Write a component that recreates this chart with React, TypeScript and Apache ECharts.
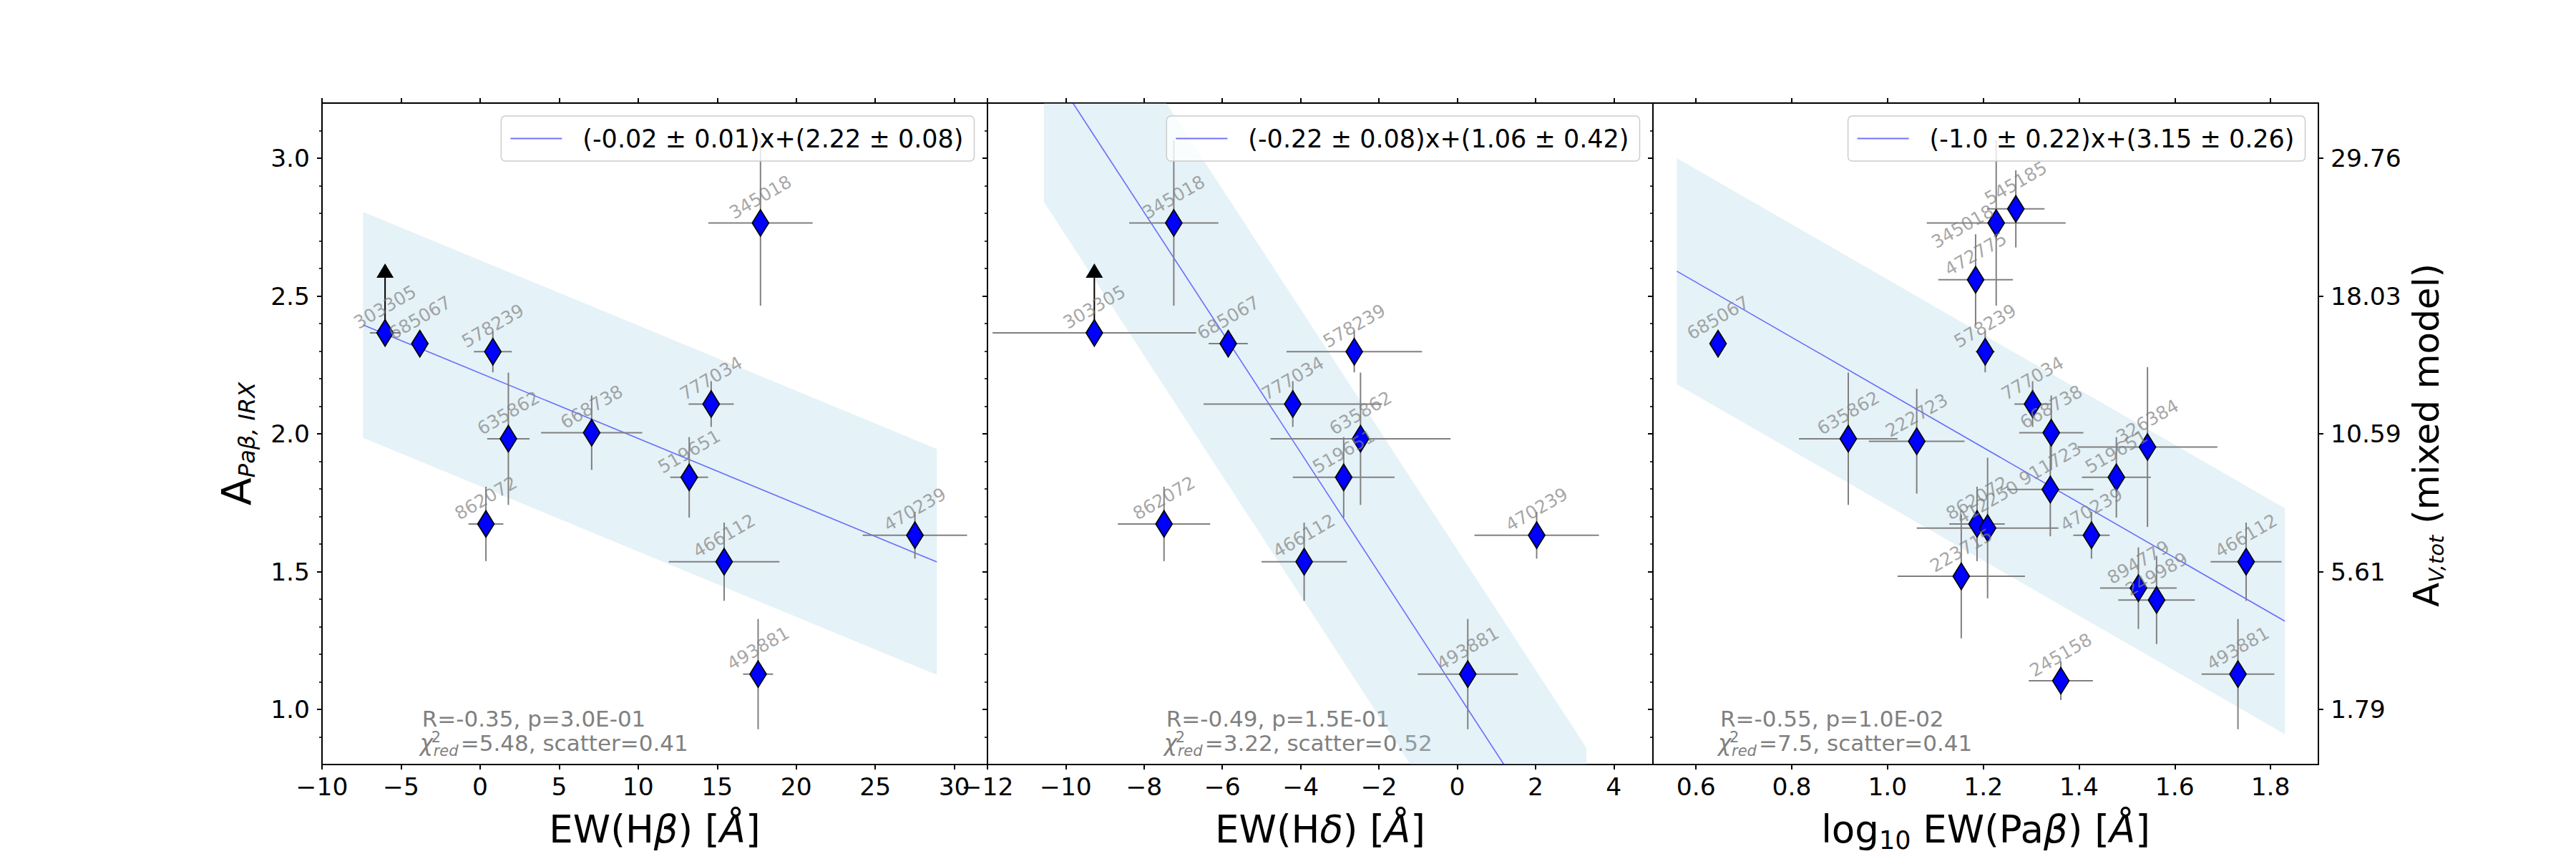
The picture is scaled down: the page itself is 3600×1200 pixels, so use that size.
import React, { useEffect, useRef } from "react";
import * as echarts from "echarts";

const FONT = "DejaVu Sans";
const GRAY = "#808080";
const ID_GRAY = "rgba(128,128,128,0.7)";
const FIT_COLOR = "rgba(0,0,255,0.55)";
const BAND_COLOR = "rgba(173,216,230,0.32)";

// A(Paβ) derived from IRX, one value per object id (shared by every panel)
const OBJ_IDS = ["303305", "345018", "685067", "578239", "777034", "635862", "668738", "519651", "862072", "466112", "493881", "470239", "545185", "472775", "222723", "326384", "911723", "412250", "223715", "894779", "249989", "245158"];
const A_PAB_IRX = [2.366, 2.765, 2.327, 2.298, 2.108, 1.982, 2.004, 1.842, 1.673, 1.536, 1.128, 1.632, 2.816, 2.559, 1.973, 1.952, 1.798, 1.658, 1.483, 1.44, 1.397, 1.104];
const A_PAB_IRX_ERR = [0, 0.3, 0.03, 0.075, 0.083, 0.24, 0.135, 0.146, 0.135, 0.142, 0.2, 0.085, 0.14, 0.165, 0.19, 0.29, 0.17, 0.255, 0.225, 0.148, 0.16, 0.07];
const LOWER_LIMIT_IDS = ["303305"];
const LIMIT_ARROW = 0.2;

// Panel 1: EW(Hβ)
const HB_IDS = ["303305", "345018", "685067", "578239", "777034", "635862", "668738", "519651", "862072", "466112", "493881", "470239"];
const HB_EW = [-6.01, 17.74, -3.81, 0.81, 14.62, 1.79, 7.06, 13.23, 0.37, 15.44, 17.59, 27.51];
const HB_EW_ERR = [0.96, 3.3, 0.4, 1.2, 1.43, 1.34, 3.2, 1.2, 1.1, 3.5, 0.95, 3.3];

// Panel 2: EW(Hδ)
const HD_IDS = ["303305", "345018", "685067", "578239", "777034", "635862", "519651", "862072", "466112", "493881", "470239"];
const HD_EW = [-9.27, -7.24, -5.85, -2.63, -4.2, -2.47, -2.9, -7.49, -3.91, 0.27, 2.03];
const HD_EW_ERR = [2.6, 1.14, 0.5, 1.73, 2.28, 2.3, 1.3, 1.18, 1.09, 1.28, 1.59];

// Panel 3: log10 EW(Paβ)
const PB_IDS = ["685067", "345018", "545185", "472775", "578239", "635862", "222723", "777034", "668738", "326384", "519651", "911723", "862072", "412250", "223715", "470239", "894779", "249989", "466112", "245158", "493881"];
const PB_LOG_EW = [0.646, 1.227, 1.268, 1.184, 1.204, 0.918, 1.061, 1.303, 1.342, 1.543, 1.478, 1.34, 1.187, 1.209, 1.154, 1.426, 1.524, 1.562, 1.749, 1.362, 1.732];
const PB_LOG_EW_ERR = [0.005, 0.145, 0.06, 0.078, 0.02, 0.103, 0.1, 0.038, 0.067, 0.146, 0.072, 0.09, 0.058, 0.148, 0.133, 0.038, 0.08, 0.08, 0.074, 0.067, 0.076];

// Linear fits and their statistics
const FIT_SLOPE = [-0.0237, -0.218, -1.0];
const FIT_SLOPE_ERR = [0.01, 0.08, 0.22];
const FIT_INTERCEPT = [2.22, 1.06, 3.15];
const FIT_INTERCEPT_ERR = [0.08, 0.42, 0.26];
const FIT_X_RANGE = [[-7.4, 28.9], [-10.56, 3.3], [0.56, 1.83]];
const SCATTER = [0.41, 0.52, 0.41];
const STATS_R = ["R=-0.35, p=3.0E-01", "R=-0.49, p=1.5E-01", "R=-0.55, p=1.0E-02"];
const STATS_CHI2 = ["5.48", "3.22", "7.5"];

// Axes
const X_MIN = [-10, -12, 0.51];
const X_MAX = [32.1, 5, 1.9];
const X_TICKS = [[-10, -5, 0, 5, 10, 15, 20, 25, 30], [-12, -10, -8, -6, -4, -2, 0, 2, 4], [0.6, 0.8, 1.0, 1.2, 1.4, 1.6, 1.8]];
const Y_MIN = 0.8;
const Y_MAX = 3.2;
const Y_TICKS = [1.0, 1.5, 2.0, 2.5, 3.0];
const Y_MINOR_TICKS = [0.9, 1.1, 1.2, 1.3, 1.4, 1.6, 1.7, 1.8, 1.9, 2.1, 2.2, 2.3, 2.4, 2.6, 2.7, 2.8, 2.9, 3.1];
const AV_TICK_LABELS = ["1.79", "5.61", "10.59", "18.03", "29.76"];

// Layout
const GRID_LEFT = [450, 1380, 2310];
const GRID_TOP = 144;
const GRID_W = 930;
const GRID_H = 924;

const PANELS = [
  { ids: HB_IDS, x: HB_EW, xerr: HB_EW_ERR },
  { ids: HD_IDS, x: HD_EW, xerr: HD_EW_ERR },
  { ids: PB_IDS, x: PB_LOG_EW, xerr: PB_LOG_EW_ERR },
];

// Pixel offset of the id labels from their marker; a few are moved aside
const LABEL_OFFSET = [0, -36];
const LABEL_SHIFT: Record<string, number[]> = { "2:345018": [-47, 5] };

const pyRound = (v: number) => {
  const r = Math.round(v * 100) / 100;
  return Number.isInteger(r) ? r.toFixed(1) : String(r);
};
const fitName = (p: number) =>
  `(${pyRound(FIT_SLOPE[p])} ± ${pyRound(FIT_SLOPE_ERR[p])})x+(${pyRound(FIT_INTERCEPT[p])} ± ${pyRound(FIT_INTERCEPT_ERR[p])})`;
const aOf = (id: string) => A_PAB_IRX[OBJ_IDS.indexOf(id)];
const aErrOf = (id: string) => A_PAB_IRX_ERR[OBJ_IDS.indexOf(id)];
const fitY = (p: number, x: number) => FIT_INTERCEPT[p] + FIT_SLOPE[p] * x;

const tickFmt = (p: number) => (v: number) => {
  if (p === 2) return v.toFixed(1);
  return v < 0 ? "\u2212" + Math.abs(v) : String(v);
};

function buildOption() {
  const grid = GRID_LEFT.map((left) => ({ left, top: GRID_TOP, width: GRID_W, height: GRID_H }));

  const axisLine = { show: true, onZero: false, lineStyle: { color: "#000", width: 2 } };
  const xAxis: any[] = [];
  for (let p = 0; p < 3; p++) {
    xAxis.push({
      type: "value", gridIndex: p, position: "bottom", min: X_MIN[p], max: X_MAX[p],
      axisLine,
      axisTick: { show: true, customValues: X_TICKS[p], length: 7, lineStyle: { color: "#000", width: 2 } },
      axisLabel: { show: true, customValues: X_TICKS[p], formatter: tickFmt(p), fontSize: 34.5, fontFamily: FONT, color: "#000", margin: 13 },
      splitLine: { show: false },
    });
  }
  for (let p = 0; p < 3; p++) {
    xAxis.push({
      type: "value", gridIndex: p, position: "top", min: X_MIN[p], max: X_MAX[p],
      axisLine,
      axisTick: { show: true, customValues: X_TICKS[p], length: 7, lineStyle: { color: "#000", width: 2 } },
      axisLabel: { show: false },
      splitLine: { show: false },
    });
  }

  const yAxis: any[] = [];
  for (let p = 0; p < 3; p++) {
    yAxis.push({
      type: "value", gridIndex: p, position: "left", min: Y_MIN, max: Y_MAX,
      axisLine,
      axisTick: { show: true, customValues: Y_TICKS, length: 7, lineStyle: { color: "#000", width: 2 } },
      axisLabel: { show: p === 0, customValues: Y_TICKS, formatter: (v: number) => v.toFixed(1), fontSize: 34.5, fontFamily: FONT, color: "#000", margin: 17 },
      splitLine: { show: false },
    });
  }
  for (let p = 0; p < 3; p++) {
    yAxis.push({
      type: "value", gridIndex: p, position: "left", min: Y_MIN, max: Y_MAX,
      axisLine: { show: false, onZero: false },
      axisTick: { show: true, customValues: Y_MINOR_TICKS, length: 4, lineStyle: { color: "#000", width: 1.6 } },
      axisLabel: { show: false },
      splitLine: { show: false },
    });
  }
  yAxis.push({
    type: "value", gridIndex: 2, position: "right", min: Y_MIN, max: Y_MAX,
    axisLine,
    axisTick: { show: true, customValues: Y_TICKS, length: 7, lineStyle: { color: "#000", width: 2 } },
    axisLabel: {
      show: true, customValues: Y_TICKS, fontSize: 34.5, fontFamily: FONT, color: "#000", margin: 17,
      formatter: (v: number) => {
        const i = Y_TICKS.findIndex((t) => Math.abs(t - v) < 1e-6);
        return i >= 0 ? AV_TICK_LABELS[i] : "";
      },
    },
    splitLine: { show: false },
  });

  const series: any[] = [];
  const legend: any[] = [];
  PANELS.forEach((panel, p) => {
    const [x0, x1] = FIT_X_RANGE[p];
    // scatter band around the fit
    series.push({
      type: "custom", xAxisIndex: p, yAxisIndex: p, clip: true, silent: true, z: 1,
      data: [[x0, x1]],
      encode: { x: [0, 1] },
      renderItem: (_params: any, api: any) => {
        const a = api.value(0), b = api.value(1), s = SCATTER[p];
        const pts = [[a, fitY(p, a) + s], [b, fitY(p, b) + s], [b, fitY(p, b) - s], [a, fitY(p, a) - s]].map((q) => api.coord(q));
        return { type: "polygon", shape: { points: pts }, style: { fill: BAND_COLOR } };
      },
    });
    // best-fit line
    series.push({
      type: "line", name: fitName(p), xAxisIndex: p, yAxisIndex: p, z: 2, symbol: "none", silent: true,
      data: [[x0, fitY(p, x0)], [x1, fitY(p, x1)]],
      lineStyle: { color: FIT_COLOR, width: 1.6 },
      itemStyle: { color: FIT_COLOR },
    });
    // error bars
    series.push({
      type: "custom", xAxisIndex: p, yAxisIndex: p, clip: true, silent: true, z: 3,
      data: panel.ids.map((id, i) => [panel.x[i], aOf(id), panel.xerr[i], aErrOf(id)]),
      encode: { x: 0, y: 1 },
      renderItem: (_params: any, api: any) => {
        const x = api.value(0), y = api.value(1), xe = api.value(2), ye = api.value(3);
        const st = { stroke: GRAY, lineWidth: 2 };
        const children: any[] = [];
        if (xe > 0) {
          const l = api.coord([x - xe, y]), r = api.coord([x + xe, y]);
          children.push({ type: "line", shape: { x1: l[0], y1: l[1], x2: r[0], y2: r[1] }, style: st });
        }
        if (ye > 0) {
          const t = api.coord([x, y + ye]), b = api.coord([x, y - ye]);
          children.push({ type: "line", shape: { x1: t[0], y1: t[1], x2: b[0], y2: b[1] }, style: st });
        }
        return { type: "group", children };
      },
    });
    // lower-limit arrows
    const limits = panel.ids.map((id, i) => ({ id, i })).filter((d) => LOWER_LIMIT_IDS.includes(d.id));
    if (limits.length) {
      series.push({
        type: "custom", xAxisIndex: p, yAxisIndex: p, clip: true, silent: true, z: 3,
        data: limits.map((d) => [panel.x[d.i], aOf(d.id)]),
        encode: { x: 0, y: 1 },
        renderItem: (_params: any, api: any) => {
          const x = api.value(0), y = api.value(1);
          const base = api.coord([x, y]);
          const tip = api.coord([x, y + LIMIT_ARROW]);
          return {
            type: "group",
            children: [
              { type: "line", shape: { x1: base[0], y1: base[1], x2: tip[0], y2: tip[1] }, style: { stroke: "#000", lineWidth: 2 } },
              { type: "polygon", shape: { points: [[tip[0] - 12, tip[1]], [tip[0] + 12, tip[1]], [tip[0], tip[1] - 20]] }, style: { fill: "#000" } },
            ],
          };
        },
      });
    }
    // objects
    series.push({
      type: "scatter", xAxisIndex: p, yAxisIndex: p, z: 4,
      symbol: "diamond", symbolSize: [23, 37],
      itemStyle: { color: "#0000ff", borderColor: "#000", borderWidth: 1.8, opacity: 1 },
      data: panel.ids.map((id, i) => ({ name: id, value: [panel.x[i], aOf(id)] })),
    });
    // rotated id labels
    series.push({
      type: "custom", xAxisIndex: p, yAxisIndex: p, clip: false, silent: true, z: 5,
      data: panel.ids.map((id, i) => [panel.x[i], aOf(id), i]),
      encode: { x: 0, y: 1 },
      renderItem: (_params: any, api: any) => {
        const id = panel.ids[api.value(2)];
        const c = api.coord([api.value(0), api.value(1)]);
        const off = LABEL_SHIFT[`${p}:${id}`] || LABEL_OFFSET;
        return {
          type: "text", x: c[0] + off[0], y: c[1] + off[1], rotation: Math.PI / 6,
          style: {
            text: id, fontSize: 25, fontFamily: FONT, fill: ID_GRAY,
            align: "center", verticalAlign: "middle", textAlign: "center", textVerticalAlign: "middle",
          },
        };
      },
    });

    legend.push({
      data: [fitName(p)], selectedMode: false,
      right: 3600 - (GRID_LEFT[p] + GRID_W - 18.5), top: 162,
      icon: "rect", itemWidth: 72, itemHeight: 2,
      backgroundColor: "rgba(255,255,255,0.8)", borderColor: "#cccccc", borderWidth: 1.5, borderRadius: 6,
      padding: [14, 15, 14, 13],
      textStyle: { fontSize: 35, fontFamily: FONT, color: "#000", padding: [0, 0, 0, 24] },
    });
  });

  return {
    animation: false,
    backgroundColor: "#fff",
    textStyle: { fontFamily: FONT },
    grid, xAxis, yAxis, series, legend,
  };
}

const X_TITLES = [
  "{n|EW(H}{i|β}{n|) [}{i|Å}{n|]}",
  "{n|EW(H}{i|δ}{n|) [}{i|Å}{n|]}",
  "{n|log}{s|10}{n| EW(Pa}{i|β}{n|) [}{i|Å}{n|]}",
];

function buildGraphics(chart: any) {
  const els: any[] = [];
  // main tokens sit in the middle of the line, subscripts hang from its bottom
  const xRich = {
    n: { fontSize: 53, fontFamily: FONT, fill: "#000", lineHeight: 65 },
    i: { fontSize: 53, fontFamily: FONT, fontStyle: "italic", fill: "#000", lineHeight: 65 },
    s: { fontSize: 35, fontFamily: FONT, fill: "#000", verticalAlign: "bottom" },
  };
  for (let p = 0; p < 3; p++) {
    els.push({
      type: "text", x: GRID_LEFT[p] + GRID_W / 2, y: 1177 - 32.5 - 0.346 * 53, silent: true, z: 10,
      style: { text: X_TITLES[p], rich: xRich, align: "center", verticalAlign: "top", textAlign: "center", textVerticalAlign: "top" },
    });
  }
  // left axis title
  els.push({
    type: "text", x: 331, y: 620, rotation: Math.PI / 2, silent: true, z: 10,
    style: {
      text: "{a|A}{s|Paβ, IRX}", align: "center", verticalAlign: "middle", textAlign: "center", textVerticalAlign: "middle",
      rich: {
        a: { fontSize: 57, fontFamily: FONT, fill: "#000", lineHeight: 60 },
        s: { fontSize: 32, fontFamily: FONT, fontStyle: "italic", fill: "#000", verticalAlign: "bottom" },
      },
    },
  });
  // right axis title
  els.push({
    type: "text", x: 3391, y: 608, rotation: Math.PI / 2, silent: true, z: 10,
    style: {
      text: "{a|A}{s|V,tot}{a| (mixed model)}", align: "center", verticalAlign: "middle", textAlign: "center", textVerticalAlign: "middle",
      rich: {
        a: { fontSize: 50, fontFamily: FONT, fill: "#000", lineHeight: 56 },
        s: { fontSize: 29, fontFamily: FONT, fontStyle: "italic", fill: "#000", verticalAlign: "bottom" },
      },
    },
  });
  // fit statistics, anchored at the smallest x among measured (non-limit) objects
  const mid = (fs: number) => -0.346 * fs;
  PANELS.forEach((panel, p) => {
    const xs = panel.ids.map((id, i) => (LOWER_LIMIT_IDS.includes(id) ? Infinity : panel.x[i]));
    const xAnchor = Math.min(...xs);
    const [gx, gy] = chart.convertToPixel({ gridIndex: p }, [xAnchor, 0.85]);
    const base = { fontFamily: FONT, fill: GRAY, align: "left", verticalAlign: "middle", textAlign: "left", textVerticalAlign: "middle" };
    els.push({
      type: "group", x: gx, y: gy, silent: true, z: 10,
      children: [
        { type: "text", x: 3, y: -34 + mid(31), style: { ...base, text: STATS_R[p], fontSize: 31, lineHeight: 22 } },
        { type: "text", x: 0, y: mid(31), style: { ...base, text: "χ", fontSize: 31, fontStyle: "italic", lineHeight: 12 } },
        { type: "text", x: 16, y: -11 + mid(21), style: { ...base, text: "2", fontSize: 21, lineHeight: 10 } },
        { type: "text", x: 19, y: 8 + mid(21), style: { ...base, text: "red", fontSize: 21, fontStyle: "italic", lineHeight: 12 } },
        { type: "text", x: 57, y: mid(31), style: { ...base, text: `=${STATS_CHI2[p]}, scatter=${SCATTER[p]}`, fontSize: 31, lineHeight: 22 } },
      ],
    });
  });
  return els;
}

export default function App() {
  const ref = useRef<HTMLDivElement>(null);
  useEffect(() => {
    if (!ref.current) return;
    const chart = echarts.init(ref.current, undefined, { renderer: "svg", width: 3600, height: 1200 });
    chart.setOption(buildOption());
    chart.setOption({ graphic: { elements: buildGraphics(chart) } });
    return () => chart.dispose();
  }, []);
  return (
    <div
      ref={ref}
      style={{ position: "fixed", left: 0, top: 0, width: 3600, height: 1200, background: "#fff" }}
    />
  );
}
